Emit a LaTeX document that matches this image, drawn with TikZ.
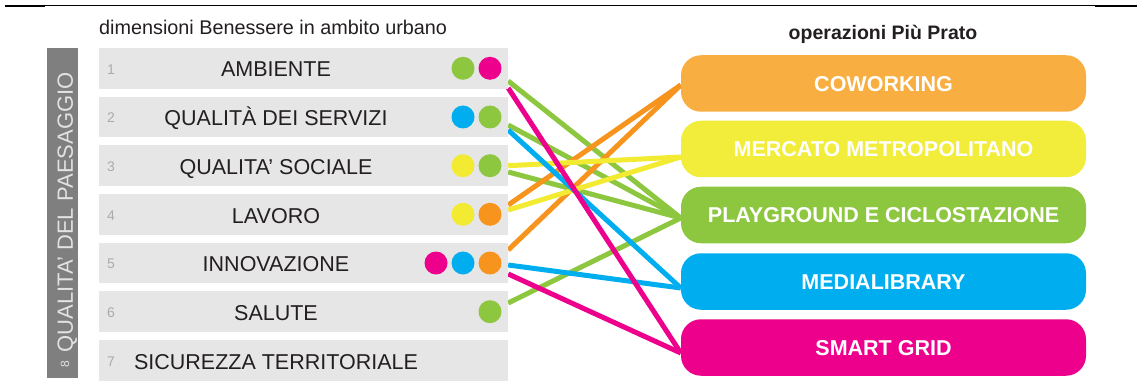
\documentclass[tikz,border=0pt]{standalone}
\usepackage{fontspec}
\setmainfont{Liberation Sans}
\usetikzlibrary{backgrounds}
\definecolor{rowgray}{HTML}{E6E6E6}
\definecolor{bargray}{HTML}{7F7F7F}
\definecolor{bartext}{HTML}{E2E2E2}
\definecolor{numgray}{HTML}{ABABAB}
\definecolor{txtdark}{HTML}{231F20}
\definecolor{cgreen}{HTML}{8DC63F}
\definecolor{cmag}{HTML}{EC008C}
\definecolor{cblue}{HTML}{00AEEF}
\definecolor{cyel}{HTML}{F2EB32}
\definecolor{corange}{HTML}{F7941D}
\definecolor{boxorange}{HTML}{F9AE42}
\definecolor{boxyel}{HTML}{F2EC3A}
\tikzset{
  rowbox/.style={fill=rowgray, draw=none, minimum width=409pt, minimum height=40.5pt, inner sep=0pt},
  rowtext/.style={text=txtdark, inner sep=0pt, font=\fontsize{21.5}{24}\selectfont, text height=15.4pt, text depth=0pt},
  rownum/.style={text=numgray, inner sep=0pt, font=\fontsize{14}{16}\selectfont},
  dot/.style={circle, minimum size=23pt, inner sep=0pt, draw=none},
  opbox/.style={rounded corners=20pt, minimum width=405pt, minimum height=56.5pt, inner sep=0pt, draw=none,
     text=white, font=\bfseries\fontsize{21.5}{24}\selectfont, text height=15.4pt, text depth=0pt},
  conn/.style={line width=5pt},
}
\begin{document}
\begin{tikzpicture}[x=1pt,y=-1pt]
\useasboundingbox (0,0) rectangle (1137,390);
% top rule
\draw[line width=1pt, black] (45,6) -- (1095,6);
\draw[line width=2.5pt, black] (5,6) -- (45,6);
\draw[line width=2.5pt, black] (1095,6) -- (1137,6);
% headers
\node[anchor=base west, inner sep=0pt, text=txtdark, font=\fontsize{19.8}{22}\selectfont] (hl) at (99,35) {dimensioni Benessere in ambito urbano};
\node[anchor=base, inner sep=0pt, text=txtdark, font=\bfseries\fontsize{19.5}{22}\selectfont] (hr) at (883,40) {operazioni Più Prato};
% vertical bar
\node[fill=bargray, minimum width=31pt, minimum height=330pt, inner sep=0pt] (bar) at (62.5,213) {};
\node[rotate=90, text=bartext, inner sep=0pt, font=\fontsize{22}{24}\selectfont, text height=15.8pt, text depth=0pt] (bartxt) at (65,212.5) {QUALITA’ DEL PAESAGGIO};
\node[rotate=90, text=bartext, inner sep=0pt, font=\fontsize{12}{14}\selectfont] (bar8) at (65,364) {8};
% rows
\foreach \i/\y/\lab in {1/68.3/AMBIENTE, 2/117/QUALITÀ DEI SERVIZI, 3/165.7/QUALITA’ SOCIALE, 4/214.3/LAVORO, 5/263/INNOVAZIONE, 6/311.7/SALUTE, 7/360.3/SICUREZZA TERRITORIALE}{
  \node[rowbox] (r\i) at (303.5,\y) {};
  \node[rownum] (n\i) at (111,\y+1) {\i};
  \node[rowtext] (t\i) at (276,\y+1) {\lab};
}
% dots
\node[dot, fill=cgreen] (d1a) at (463,68.3) {};
\node[dot, fill=cmag] (d1b) at (490,68.3) {};
\node[dot, fill=cblue] (d2a) at (463,117) {};
\node[dot, fill=cgreen] (d2b) at (490,117) {};
\node[dot, fill=cyel] (d3a) at (463,165.7) {};
\node[dot, fill=cgreen] (d3b) at (490,165.7) {};
\node[dot, fill=cyel] (d4a) at (463,214.3) {};
\node[dot, fill=corange] (d4b) at (490,214.3) {};
\node[dot, fill=cmag] (d5a) at (436,263) {};
\node[dot, fill=cblue] (d5b) at (463,263) {};
\node[dot, fill=corange] (d5c) at (490,263) {};
\node[dot, fill=cgreen] (d6a) at (490,311.7) {};
% operation boxes
\node[opbox, fill=boxorange] (cow) at (883.5,83.5) {COWORKING};
\node[opbox, fill=boxyel] (merc) at (883.5,149) {MERCATO METROPOLITANO};
\node[opbox, fill=cgreen] (play) at (883.5,215) {PLAYGROUND E CICLOSTAZIONE};
\node[opbox, fill=cblue] (med) at (883.5,281.5) {MEDIALIBRARY};
\node[opbox, fill=cmag] (smart) at (883.5,347.5) {SMART GRID};
% connectors
\begin{scope}[on background layer]
\draw[conn, cgreen] ([yshift=-12.7pt]r1.east) -- ([yshift=-3pt]play.west);
\draw[conn, cgreen] ([yshift=-8pt]r2.east) -- ([yshift=-3pt]play.west);
\draw[conn, cgreen] ([yshift=-6.3pt]r3.east) -- ([yshift=-3pt]play.west);
\draw[conn, cgreen] ([yshift=8.7pt]r6.east) -- ([yshift=-3pt]play.west);
\draw[conn, corange] ([yshift=9.3pt]r4.east) -- ([yshift=-1.5pt]cow.west);
\draw[conn, corange] ([yshift=13pt]r5.east) -- ([yshift=-1.5pt]cow.west);
\draw[conn, cyel] ([yshift=0pt]r3.east) -- ([yshift=-8pt]merc.west);
\draw[conn, cyel] ([yshift=4.3pt]r4.east) -- ([yshift=-8pt]merc.west);
\draw[conn, cblue] ([yshift=-13pt]r2.east) -- ([yshift=-6.5pt]med.west);
\draw[conn, cblue] ([yshift=-2pt]r5.east) -- ([yshift=-6.5pt]med.west);
\draw[conn, cmag] ([yshift=-11pt]r5.east) -- ([yshift=-5.5pt]smart.west);
\draw[conn, cmag] ([yshift=-19.7pt]r1.east) -- ([yshift=-5.5pt]smart.west);
\end{scope}
\end{tikzpicture}
\end{document}
